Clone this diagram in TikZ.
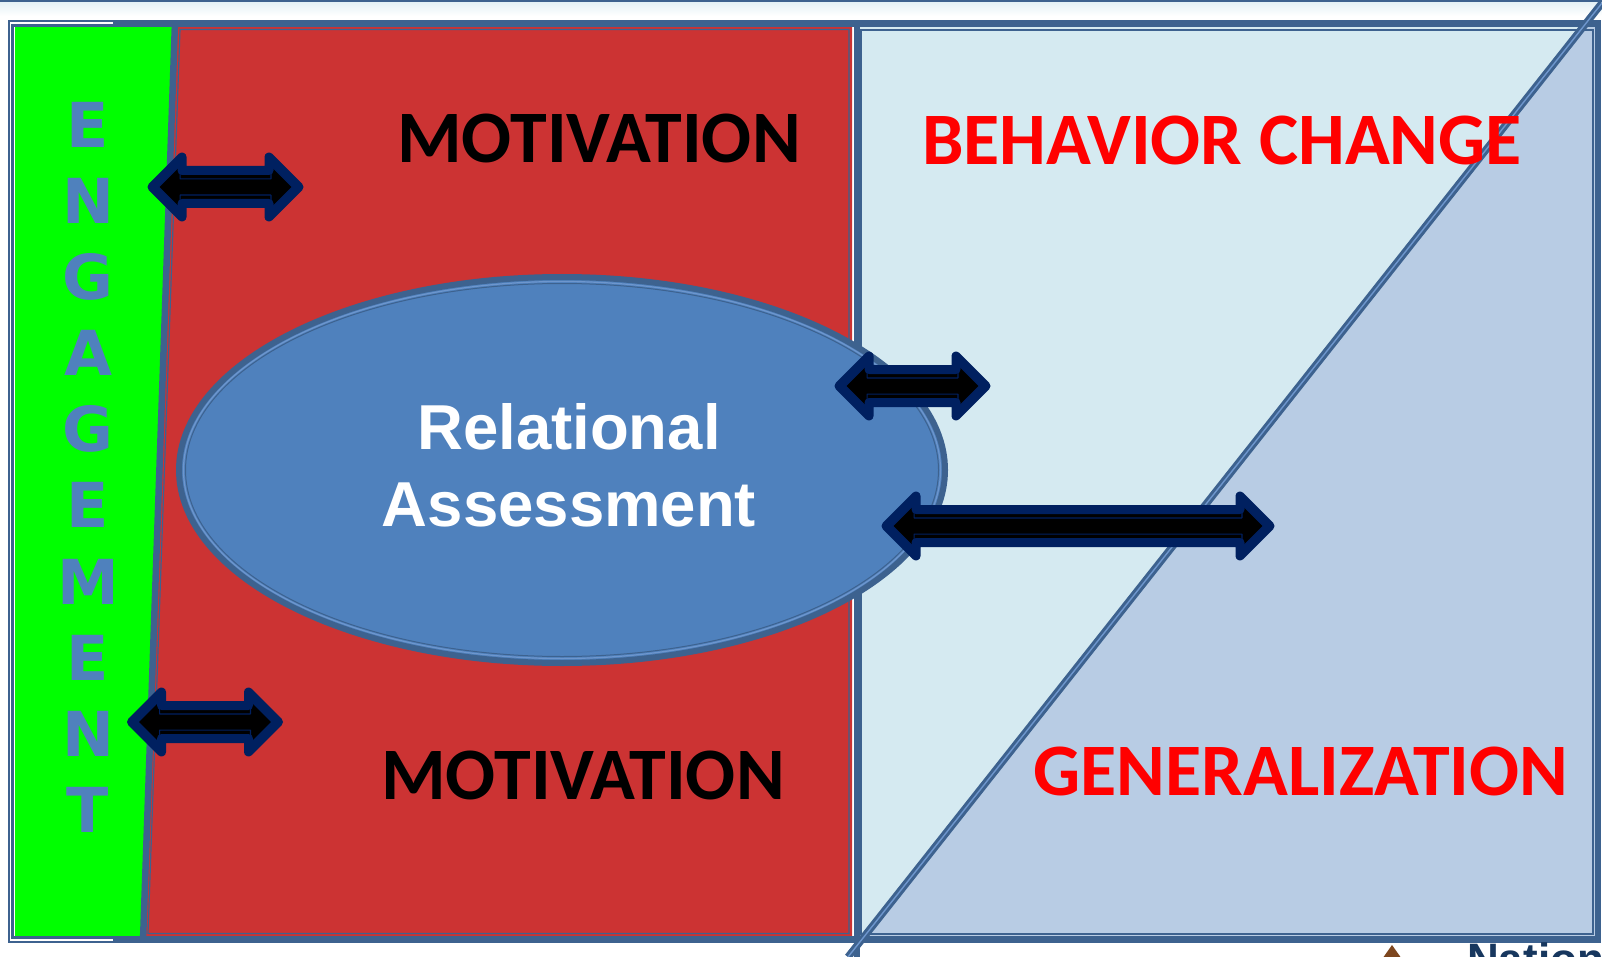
\documentclass[tikz,border=0pt]{standalone}
\usepackage{fontspec}
\usetikzlibrary{shapes.geometric,shapes.arrows}
\newfontfamily\calibri{Carlito}
\newfontfamily\verdana{DejaVu Sans}
\newfontfamily\arial{Liberation Sans}
\definecolor{frameblue}{RGB}{61,98,143}
\definecolor{engreen}{RGB}{0,255,0}
\definecolor{motred}{RGB}{204,51,51}
\definecolor{palecyan}{RGB}{213,234,241}
\definecolor{paleblue}{RGB}{184,204,228}
\definecolor{assessblue}{RGB}{79,129,189}
\definecolor{arrownavy}{RGB}{0,32,96}
\definecolor{titlered}{RGB}{255,0,0}
\definecolor{nationnavy}{RGB}{23,55,94}
\definecolor{bulletbrown}{RGB}{125,70,30}
\definecolor{linelight}{RGB}{110,150,205}

\tikzset{
  twoway/.style={double arrow, draw=arrownavy, fill=black, line width=9pt,
    line join=round, inner xsep=0pt, inner ysep=12pt,
    double arrow head extend=13.5pt, minimum height=#1},
  twowayrim/.style={double arrow, draw=arrownavy, line width=1.2pt,
    line join=round, inner xsep=0pt, inner ysep=7.5pt,
    double arrow head extend=13.5pt, minimum height=#1},
  bigword/.style={font=\calibri\bfseries\fontsize{74}{88}\selectfont,
    inner sep=0pt, anchor=base}
}

\begin{document}
\begin{tikzpicture}[x=1pt,y=-1pt]
\useasboundingbox (0,0) rectangle (1602,957);
\clip (0,0) rectangle (1602,957);
\fill[white] (0,0) rectangle (1602,957);
\fill[frameblue] (0,0) rectangle (1602,3);
\shade[top color=palecyan!60, bottom color=white] (0,3) rectangle (1602,16);

% panels
\fill[engreen] (15,26) -- (175,26) -- (143,937) -- (15,937) -- cycle;
\fill[motred] (175,26) -- (852,26) -- (852,937) -- (143,937) -- cycle;
\draw[frameblue, line width=1.2] (180,29.5) -- (849,29.5) -- (849,933.5) -- (148,933.5) -- cycle;
\fill[palecyan] (857,26) rectangle (1596,937);
\fill[paleblue] (1583,26) -- (1596,26) -- (1596,937) -- (864,937) -- cycle;
\draw[frameblue, line width=1.2] (861,30) rectangle (1593,934);

% frame
\draw[frameblue, line width=6.5] (11,23.5) rectangle (1598,939.5);
\draw[white, line width=1.3] (113,23) -- (10.5,23) -- (10.5,940) -- (113,940);
\draw[frameblue, line width=6.5] (175,22) -- (143,941);
\draw[frameblue, line width=5.5] (857,21) -- (857,957);
\draw[frameblue, line width=3, double=linelight, double distance=1.4] (1602,3) -- (848,957);

% center
\node[ellipse, fill=assessblue, draw=frameblue, line width=6, inner sep=0,
  minimum width=766, minimum height=386] (assess) at (562,470) {};
\draw[linelight, line width=1.2] (assess.center) ellipse [x radius=378.5, y radius=188.5];
\draw[frameblue, line width=1] (assess.center) ellipse [x radius=376.5, y radius=186.5];
\node[font=\arial\bfseries\fontsize{63.5}{77}\selectfont, text=white, align=center,
  inner sep=0] (assesslabel) at (569,465) {Relational\\Assessment};

% arrows
\node[twoway=147] (toparrow) at (225.5,187) {};
\node[twowayrim=134] (toparrowrim) at (toparrow.center) {};
\node[twoway=147] (botarrow) at (205,722) {};
\node[twowayrim=134] (botarrowrim) at (botarrow.center) {};
\node[twoway=147] (midarrow) at (912.5,386) {};
\node[twowayrim=134] (midarrowrim) at (midarrow.center) {};
\node[twoway=384] (longarrow) at (1078,526) {};
\node[twowayrim=371] (longarrowrim) at (longarrow.center) {};

% words
\node[bigword] (mottop) at (599,163) {MOTIVATION};
\node[bigword] (motbot) at (583,799) {MOTIVATION};
\node[bigword, text=titlered] (behave) at (1222,165) {BEHAVIOR CHANGE};
\node[bigword, text=titlered] (general) at (1301,795) {GENERALIZATION};
\node[font=\verdana\bfseries\fontsize{62}{76.1}\selectfont, text=assessblue,
  align=center, inner sep=0, anchor=north] (engage) at (88,102)
  {E\\N\\G\\A\\G\\E\\M\\E\\N\\T};

% below the frame
\fill[bulletbrown] (1392,945) -- (1404,962) -- (1380,962) -- cycle;
\node[font=\arial\bfseries\fontsize{44}{50}\selectfont, text=nationnavy,
  anchor=base west, inner sep=0] (nation) at (1467,974) {Nation};
\end{tikzpicture}
\end{document}
